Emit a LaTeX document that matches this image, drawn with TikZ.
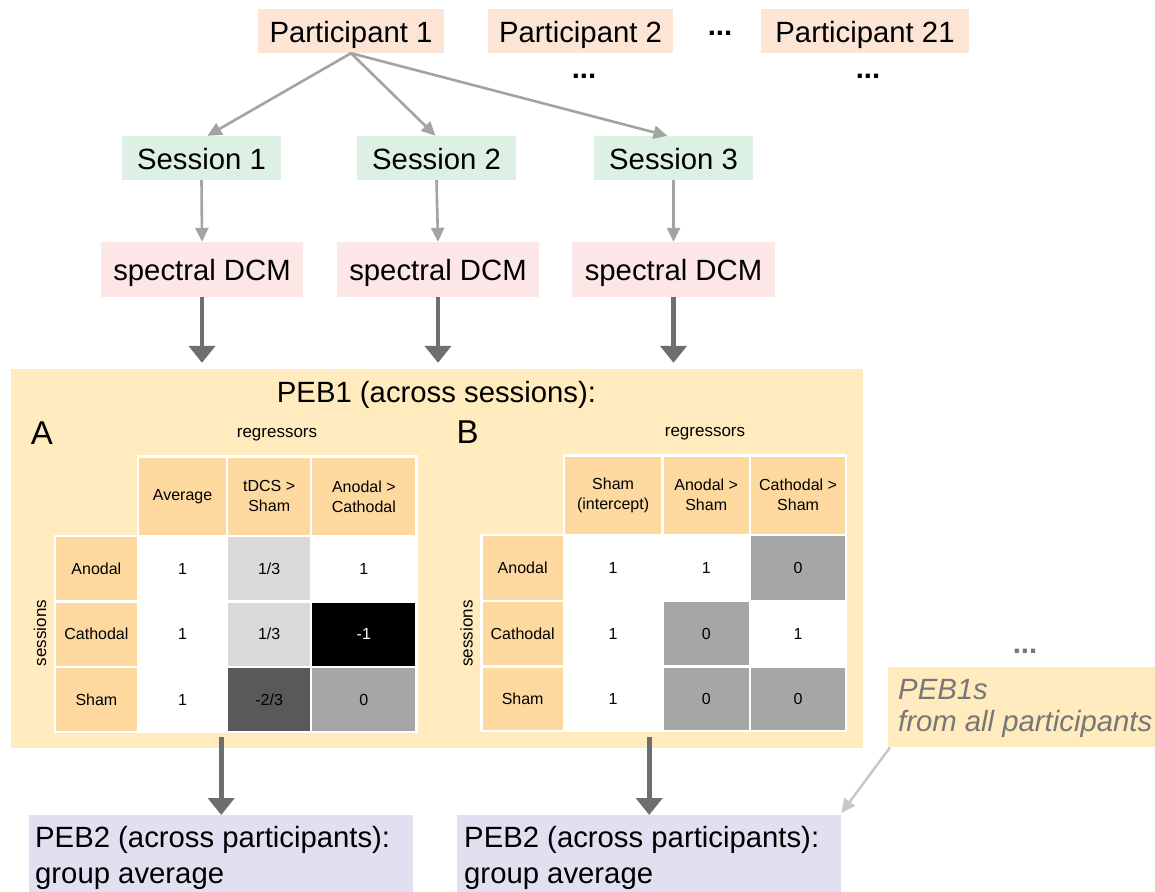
\documentclass[tikz,border=0pt]{standalone}
\usepackage{fontspec}
\setmainfont{Liberation Sans}
\usetikzlibrary{arrows.meta,calc}

\definecolor{partfill}{HTML}{FCE5D5}
\definecolor{sessfill}{HTML}{DDF0E4}
\definecolor{dcmfill}{HTML}{FDE6E6}
\definecolor{pebfill}{HTML}{FFEBBE}
\definecolor{headfill}{HTML}{FDD9A0}
\definecolor{grpfill}{HTML}{E4DEF1}
\definecolor{lightcell}{HTML}{D9D9D9}
\definecolor{midcell}{HTML}{A6A6A6}
\definecolor{darkcell}{HTML}{595959}
\definecolor{thinarrow}{HTML}{A3A3A3}
\definecolor{thickarrow}{HTML}{6E6E6E}
\definecolor{faintarrow}{HTML}{C8C8C8}
\definecolor{notegray}{HTML}{777777}

\newcommand\bigfont{\fontsize{29.3}{35}\selectfont}
\newcommand\groupfont{\fontsize{29.3}{36.5}\selectfont}
\newcommand\notefont{\fontsize{29.3}{32.5}\selectfont}
\newcommand\cellfont{\fontsize{16}{20}\selectfont}
\newcommand\smallfont{\fontsize{17}{20}\selectfont}

% one cell of a design matrix: name, x-left, x-right, y-top, y-bottom, fill, text
\newcommand\gridcell[7]{%
  \node[cellbox,fill=#6,minimum width={(#3-#2-2.4)*1pt},minimum height={(#5-#4-2.4)*1pt}]
    (#1) at ({(#2+#3)/2},{(#4+#5)/2}) {#7};}

\begin{document}
\begin{tikzpicture}[x=1pt,y=-1pt,
  flowbox/.style={inner sep=0pt, font=\bigfont, text height=22pt, text depth=0pt},
  dotsnode/.style={inner sep=0pt, font=\bigfont\bfseries},
  smallarrow/.style={draw=thinarrow, line width=2.6pt, -{Triangle[width=13pt,length=14pt]}},
  bigarrow/.style={draw=thickarrow, line width=4.6pt, -{Triangle[width=26pt,length=17pt]}},
  faintline/.style={draw=faintarrow, line width=2.5pt, -{Triangle[width=13pt,length=14pt]}},
  cellbox/.style={inner sep=0pt, font=\cellfont, align=center},
  plain/.style={inner sep=0pt}]
\useasboundingbox (0,0) rectangle (1155,891);

% participants
\node[flowbox, fill=partfill, minimum width=186pt, minimum height=44pt] (p1) at (351,31) {Participant 1};
\node[flowbox, fill=partfill, minimum width=185pt, minimum height=44pt] (p2) at (580.5,31) {Participant 2};
\node[flowbox, fill=partfill, minimum width=208pt, minimum height=44pt] (p21) at (865,31) {Participant 21};
\node[dotsnode] (pdots) at (720,33) {...};
\node[dotsnode] (p2dots) at (584,76) {...};
\node[dotsnode] (p21dots) at (868,76) {...};

% sessions
\node[flowbox, fill=sessfill, minimum width=159pt, minimum height=44pt] (s1) at (201.5,158) {Session 1};
\node[flowbox, fill=sessfill, minimum width=159pt, minimum height=44pt] (s2) at (436.5,158) {Session 2};
\node[flowbox, fill=sessfill, minimum width=159pt, minimum height=44pt] (s3) at (673.5,158) {Session 3};

% spectral DCMs
\node[flowbox, fill=dcmfill, minimum width=202pt, minimum height=55pt] (d1) at (202,269.5) {spectral DCM};
\node[flowbox, fill=dcmfill, minimum width=202pt, minimum height=55pt] (d2) at (438,269.5) {spectral DCM};
\node[flowbox, fill=dcmfill, minimum width=203pt, minimum height=55pt] (d3) at (673.5,269.5) {spectral DCM};

% first-level PEB panel
\node[plain, fill=pebfill, minimum width=852.3pt, minimum height=379pt] (peb1) at (436.85,558.5) {};
\node[plain, font=\bigfont, anchor=base] (peb1title) at (436.5,402.5) {PEB1 (across sessions):};

% panel A
\node[plain, font=\fontsize{33}{36}\selectfont, anchor=base] (labA) at (42,444) {A};
\node[plain, font=\smallfont, anchor=base] (regA) at (277,437) {regressors};
\node[plain, font=\smallfont, rotate=90] (sesA) at (40,633) {sessions};
\fill[white] (136.8,455.3) rectangle (417.7,536.2);
\fill[white] (53.6,535) rectangle (417.7,733.2);
\gridcell{aH1}{138}{227.2}{456.5}{536.2}{headfill}{Average}
\gridcell{aH2}{227.2}{311.2}{456.5}{536.2}{headfill}{tDCS >\\Sham}
\gridcell{aH3}{311.2}{416.5}{456.5}{536.2}{headfill}{Anodal >\\Cathodal}
\gridcell{aR1}{54.8}{138}{536.2}{601.3}{headfill}{Anodal}
\gridcell{aR2}{54.8}{138}{601.3}{667}{headfill}{Cathodal}
\gridcell{aR3}{54.8}{138}{667}{732}{headfill}{Sham}
\gridcell{a11}{138}{227.2}{536.2}{601.3}{white}{1}
\gridcell{a12}{227.2}{311.2}{536.2}{601.3}{lightcell}{1/3}
\gridcell{a13}{311.2}{416.5}{536.2}{601.3}{white}{1}
\gridcell{a21}{138}{227.2}{601.3}{667}{white}{1}
\gridcell{a22}{227.2}{311.2}{601.3}{667}{lightcell}{1/3}
\gridcell{a23}{311.2}{416.5}{601.3}{667}{black}{\color{white}-1}
\gridcell{a31}{138}{227.2}{667}{732}{white}{1}
\gridcell{a32}{227.2}{311.2}{667}{732}{darkcell}{-2/3}
\gridcell{a33}{311.2}{416.5}{667}{732}{midcell}{0}

% panel B
\node[plain, font=\fontsize{33}{36}\selectfont, anchor=base] (labB) at (467.5,443) {B};
\node[plain, font=\smallfont, anchor=base] (regB) at (705,436) {regressors};
\node[plain, font=\smallfont, rotate=90] (sesB) at (466.5,633.5) {sessions};
\fill[white] (562.6,454.3) rectangle (847.4,535.9);
\fill[white] (480.3,533.5) rectangle (847.4,732.4);
\gridcell{bH1}{563.8}{662.4}{455.5}{534.7}{headfill}{Sham\\(intercept)}
\gridcell{bH2}{662.4}{750}{455.5}{534.7}{headfill}{Anodal >\\Sham}
\gridcell{bH3}{750}{846.2}{455.5}{534.7}{headfill}{Cathodal >\\Sham}
\gridcell{bR1}{481.5}{563.8}{534.7}{600.7}{headfill}{Anodal}
\gridcell{bR2}{481.5}{563.8}{600.7}{666.3}{headfill}{Cathodal}
\gridcell{bR3}{481.5}{563.8}{666.3}{731.2}{headfill}{Sham}
\gridcell{b11}{563.8}{662.4}{534.7}{600.7}{white}{1}
\gridcell{b12}{662.4}{750}{534.7}{600.7}{white}{1}
\gridcell{b13}{750}{846.2}{534.7}{600.7}{midcell}{0}
\gridcell{b21}{563.8}{662.4}{600.7}{666.3}{white}{1}
\gridcell{b22}{662.4}{750}{600.7}{666.3}{midcell}{0}
\gridcell{b23}{750}{846.2}{600.7}{666.3}{white}{1}
\gridcell{b31}{563.8}{662.4}{666.3}{731.2}{white}{1}
\gridcell{b32}{662.4}{750}{666.3}{731.2}{midcell}{0}
\gridcell{b33}{750}{846.2}{666.3}{731.2}{midcell}{0}

% PEB1s of the other participants
\node[dotsnode, text=notegray] (peb1dots) at (1025,651) {...};
\node[plain, fill=pebfill, anchor=north west, minimum width=280pt, minimum height=80pt] (peb1s) at (888,667) {};
\node[plain, font=\notefont\itshape, text=notegray, align=left, anchor=north west] (peb1stext) at (898,679) {PEB1s\\from all participants};

% second-level PEBs
\node[plain, fill=grpfill, anchor=north west, minimum width=384pt, minimum height=90pt] (peb2a) at (29,815) {};
\node[plain, fill=grpfill, anchor=north west, minimum width=384pt, minimum height=90pt] (peb2b) at (457,815) {};
\node[plain, font=\groupfont, align=left, anchor=north west] (peb2atext) at (35,826) {PEB2 (across participants):\\group average};
\node[plain, font=\groupfont, align=left, anchor=north west] (peb2btext) at (464,826) {PEB2 (across participants):\\group average};
\coordinate (tabbot) at (0,737);

% connectors
\draw[smallarrow] (p1.south) -- ([xshift=6pt]s1.north);
\draw[smallarrow] (p1.south) -- ([xshift=-1pt]s2.north);
\draw[smallarrow] (p1.south) -- ([xshift=-6pt]s3.north);
\draw[smallarrow] (s1.south) -- (d1.north);
\draw[smallarrow] (s2.south) -- (d2.north);
\draw[smallarrow] (s3.south) -- (d3.north);
\draw[bigarrow] (d1.south) -- ($(d1.south |- peb1.north)+(0,-6)$);
\draw[bigarrow] (d2.south) -- ($(d2.south |- peb1.north)+(0,-6)$);
\draw[bigarrow] (d3.south) -- ($(d3.south |- peb1.north)+(0,-6)$);
\draw[bigarrow] (peb2a.north |- tabbot) -- (peb2a.north);
\draw[bigarrow] (peb2b.north |- tabbot) -- (peb2b.north);
\draw[faintline] ([xshift=2pt]peb1s.south west) -- ([yshift=2pt]peb2b.north east);
\end{tikzpicture}
\end{document}
